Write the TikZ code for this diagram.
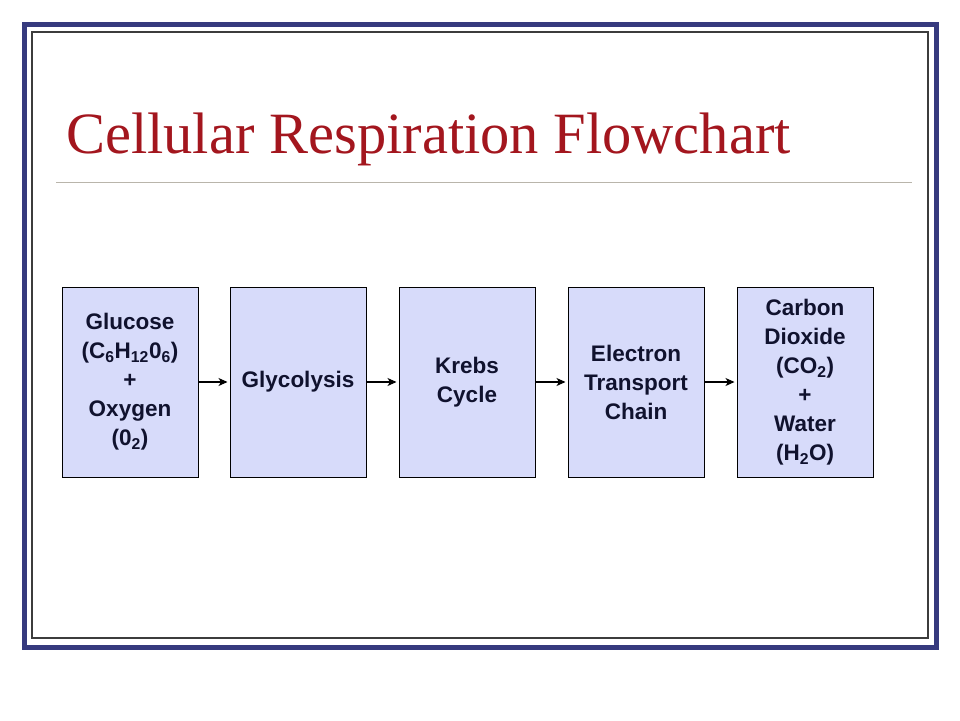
\documentclass[tikz,border=0pt]{standalone}
\usepackage{fontspec}
\setmainfont{Liberation Serif}
\newfontfamily\arialb{Liberation Sans}[BoldFont={* Bold}]
\usetikzlibrary{arrows.meta}
\definecolor{frameblue}{HTML}{363A7E}
\definecolor{titlered}{HTML}{A3161E}
\definecolor{boxfill}{HTML}{D7DBFA}
\definecolor{boxtext}{HTML}{10122E}
\definecolor{ruleline}{HTML}{B9B5AB}
\definecolor{innerframe}{HTML}{3C3C3C}
\tikzset{
  stagebox/.style={draw=black, line width=1pt, fill=boxfill, minimum width=136pt, minimum height=190pt,
    inner sep=0pt, align=center, text=boxtext, font=\arialb\bfseries\fontsize{22.5}{29}\selectfont},
  flowarrow/.style={draw=black, line width=1.1pt, shorten >=2pt, -{Stealth[length=9pt,width=8pt,inset=2.5pt]}}
}
\begin{document}
\begin{tikzpicture}[x=1pt,y=-1pt]
\useasboundingbox (0,0) rectangle (960,720);
\fill[white] (0,0) rectangle (960,720);
\draw[frameblue, line width=5pt] (24.5,24.5) rectangle (936.5,647.5);
\draw[innerframe, line width=1.2pt] (32,32) rectangle (928,638);
\node[anchor=base west, inner sep=0pt, text=titlered, font=\fontsize{58.5}{70}\selectfont] (title) at (66,153) {Cellular Respiration Flowchart};
\draw[ruleline, line width=1pt] (56,182.5) -- (912,182.5);
\node[stagebox] (b1) at (130,382) {Glucose\\(C\textsubscript{6}H\textsubscript{12}0\textsubscript{6})\\+\\Oxygen\\(0\textsubscript{2})};
\node[stagebox] (b2) at (298,382) {Glycolysis};
\node[stagebox] (b3) at (467,382) {Krebs\\Cycle};
\node[stagebox] (b4) at (636,382) {Electron\\Transport\\Chain};
\node[stagebox] (b5) at (805,382) {Carbon\\Dioxide\\(CO\textsubscript{2})\\+\\Water\\(H\textsubscript{2}O)};
\draw[flowarrow] (b1.east) -- (b2.west);
\draw[flowarrow] (b2.east) -- (b3.west);
\draw[flowarrow] (b3.east) -- (b4.west);
\draw[flowarrow] (b4.east) -- (b5.west);
\end{tikzpicture}
\end{document}
